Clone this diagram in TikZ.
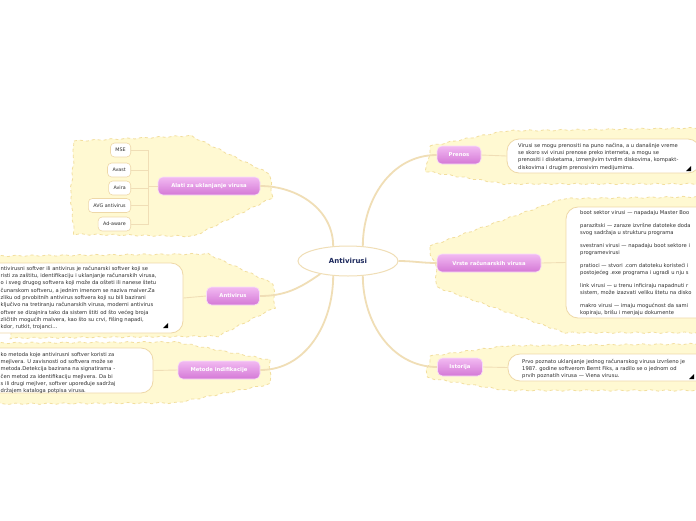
\documentclass[tikz,border=0pt]{standalone}
\usepackage{fontspec}
\setmainfont{DejaVu Sans}
\usepackage{tikz}
\usetikzlibrary{positioning,calc,shapes.geometric,decorations.pathmorphing}
\definecolor{cloudfill}{RGB}{255,249,210}
\definecolor{clouddash}{RGB}{242,222,158}
\definecolor{branch}{RGB}{240,222,182}
\definecolor{notedraw}{RGB}{238,216,168}
\definecolor{pinktop}{RGB}{242,186,242}
\definecolor{pinkbot}{RGB}{212,120,214}
\definecolor{navy}{RGB}{28,40,92}
\definecolor{inkgray}{RGB}{45,45,45}

\begin{document}
\begin{tikzpicture}[x=1pt,y=-1pt,
 every node/.style={font=\fontsize{5.2}{7.3}\selectfont},
 cloud/.style={fill=cloudfill,draw=clouddash,dashed,line width=0.8pt,decorate,decoration={snake,amplitude=0.7pt,segment length=16pt}},
 topic/.style={rounded corners=5pt,top color=pinktop,bottom color=pinkbot,draw=pinktop!50!white,line width=0.6pt,text=white,font=\bfseries\fontsize{5.3}{6}\selectfont,minimum height=18pt},
 note/.style={rounded corners=12pt,fill=white,draw=notedraw,line width=0.8pt},
 notetext/.style={align=left,anchor=north west,text=inkgray,inner sep=0pt},
 leaf/.style={rounded corners=4pt,fill=white,draw=notedraw,line width=0.6pt,text=inkgray,font=\fontsize{4.8}{5}\selectfont,minimum height=14pt,inner xsep=5pt,anchor=east},
 link/.style={draw=branch,line width=1.8pt},
 twig/.style={draw=branch,line width=0.9pt}
]
\fill[white] (0,0) rectangle (696,520);
\path[use as bounding box] (0,0) rectangle (696,520);
\clip (0,0) rectangle (696,520);

% clouds
\path[cloud] (74,141) -- (185,136) -- (268,176) -- (270,198) -- (188,238) -- (74,236) -- (70,190) -- cycle;
\path[cloud] (-5,256) -- (200,254) -- (266,284) -- (267,308) -- (205,339) -- (-5,341) -- cycle;
\path[cloud] (-5,343) -- (172,342) -- (266,360) -- (267,382) -- (172,401) -- (-5,402) -- cycle;
\path[cloud] (430,146) -- (505,131) -- (705,128) -- (705,182) -- (505,182) -- (430,170) -- cycle;
\path[cloud] (430,246) -- (562,199) -- (705,197) -- (705,330) -- (562,330) -- (430,283) -- cycle;
\path[cloud] (430,356) -- (505,346) -- (705,344) -- (705,392) -- (505,392) -- (430,380) -- cycle;

% centre
\node[ellipse,draw=branch,fill=white,line width=1pt,minimum width=100pt,minimum height=30pt,text=navy,font=\bfseries\fontsize{7}{8}\selectfont] (root) at (348,261) {Antivirusi};

% topics
\node[topic,minimum width=44pt] (prenos) at (459,155) {Prenos};
\node[topic,minimum width=104pt] (vrste) at (489,263) {Vrste računarskih virusa};
\node[topic,minimum width=45pt] (istorija) at (460,367) {Istorija};
\node[topic,minimum width=102pt] (alati) at (209,186) {Alati za uklanjanje virusa};
\node[topic,minimum width=53pt] (antivirus) at (233,296) {Antivirus};
\node[topic,minimum width=82pt] (metode) at (219,370) {Metode indifikacije};

\draw[link] (root.45) to[out=90,in=180] (prenos.west);
\draw[link] (root.east) to[out=0,in=180] (vrste.west);
\draw[link] (root.-45) to[out=-90,in=180] (istorija.west);
\draw[link] (root.135) to[out=90,in=0] (alati.east);
\draw[link] (root.205) to[out=215,in=0] (antivirus.east);
\draw[link] (root.-135) to[out=-90,in=0] (metode.east);

% notes
\node[note,minimum width=193pt,minimum height=34pt] (prenosnote) at (603.5,156) {};
\node[note,minimum width=146pt,minimum height=111pt] (vrstenote) at (639,262.5) {};
\node[note,minimum width=204pt,minimum height=27pt] (istorijanote) at (610,367.5) {};
\node[note,minimum width=203pt,minimum height=70pt] (antivirusnote) at (81.5,298) {};
\node[note,minimum width=173pt,minimum height=45pt] (metodenote) at (66.5,370.5) {};

\draw[twig] (prenos.east) -- (prenosnote.west);
\draw[twig] (vrste.east) -- (vrstenote.west);
\draw[twig] (istorija.east) -- (istorijanote.west);
\draw[twig] (antivirus.west) -- (antivirusnote.east);
\draw[twig] (metode.west) -- (metodenote.east);

\node[notetext] (prenostext) at (518,143) {Virusi se mogu prenositi na puno načina, a u današnje vreme\\se skoro svi virusi prenose preko interneta, a mogu se\\prenositi i disketama, izmenjivim tvrdim diskovima, kompakt-\\diskovima i drugim prenosivim medijumima.};
\node[notetext,font=\fontsize{5.2}{7}\selectfont] (vrstetext) at (580,210) {boot sektor virusi — napadaju Master Boo\\[6pt]parazitski — zaraze izvršne datoteke doda\\svog sadržaja u strukturu programa\\[6pt]svestrani virusi — napadaju boot sektore i\\programevirusi\\[6pt]pratioci — stvori .com datoteku koristeći i\\postojećeg .exe programa i ugradi u nju s\\[6pt]link virusi — u trenu inficiraju napadnuti r\\sistem, može izazvati veliku štetu na disko\\[6pt]makro virusi — imaju mogućnost da sami\\kopiraju, brišu i menjaju dokumente};
\node[notetext] (istorijatext) at (522,359) {Prvo poznato uklanjanje jednog računarskog virusa izvršeno je\\1987. godine softverom Bernt Fiks, a radilo se o jednom od\\prvih poznatih virusa — Viena virusu.};
\node[notetext] (antivirustext) at (0.5,266) {ntivirusni softver ili antivirus je računarski softver koji se\\risti za zaštitu, identifikaciju i uklanjanje računarskih virusa,\\o i sveg drugog softvera koji može da ošteti ili nanese štetu\\čunarskom softveru, a jednim imenom se naziva malver.Za\\zliku od prvobitnih antivirus softvera koji su bili bazirani\\ključivo na tretiranju računarskih virusa, moderni antivirus\\oftver se dizajnira tako da sistem štiti od što većeg broja\\zličitih mogućih malvera, kao što su crvi, fišing napadi,\\kdor, rutkit, trojanci...};
\node[notetext] (metodetext) at (0.5,352) {ko metoda koje antivirusni softver koristi za\\mejlvera. U zavisnosti od softvera može se\\metoda.Detekcija bazirana na signatirama -\\čen metod za identifikaciju mejlvera. Da bi\\s ili drugi mejlver, softver upoređuje sadržaj\\držajem kataloga potpisa virusa.};

% resize marks
\fill (686,171) -- (691,166) -- (691,171) -- cycle;
\fill (163,328) -- (168,323) -- (168,328) -- cycle;
\fill (689,379) -- (694,374) -- (694,379) -- cycle;

% tools
\node[leaf] (mse) at (131,150) {MSE};
\node[leaf] (avast) at (131,170) {Avast};
\node[leaf] (avira) at (131,188) {Avira};
\node[leaf] (avg) at (131,205.5) {AVG antivirus};
\node[leaf] (adaware) at (131,224) {Ad-aware};
\coordinate (fork) at (148,186);
\draw[twig] (alati.west) -- (fork);
\foreach \n in {mse,avast,avira,avg,adaware}
 \draw[twig] (\n.east) -| (fork);
\end{tikzpicture}
\end{document}
